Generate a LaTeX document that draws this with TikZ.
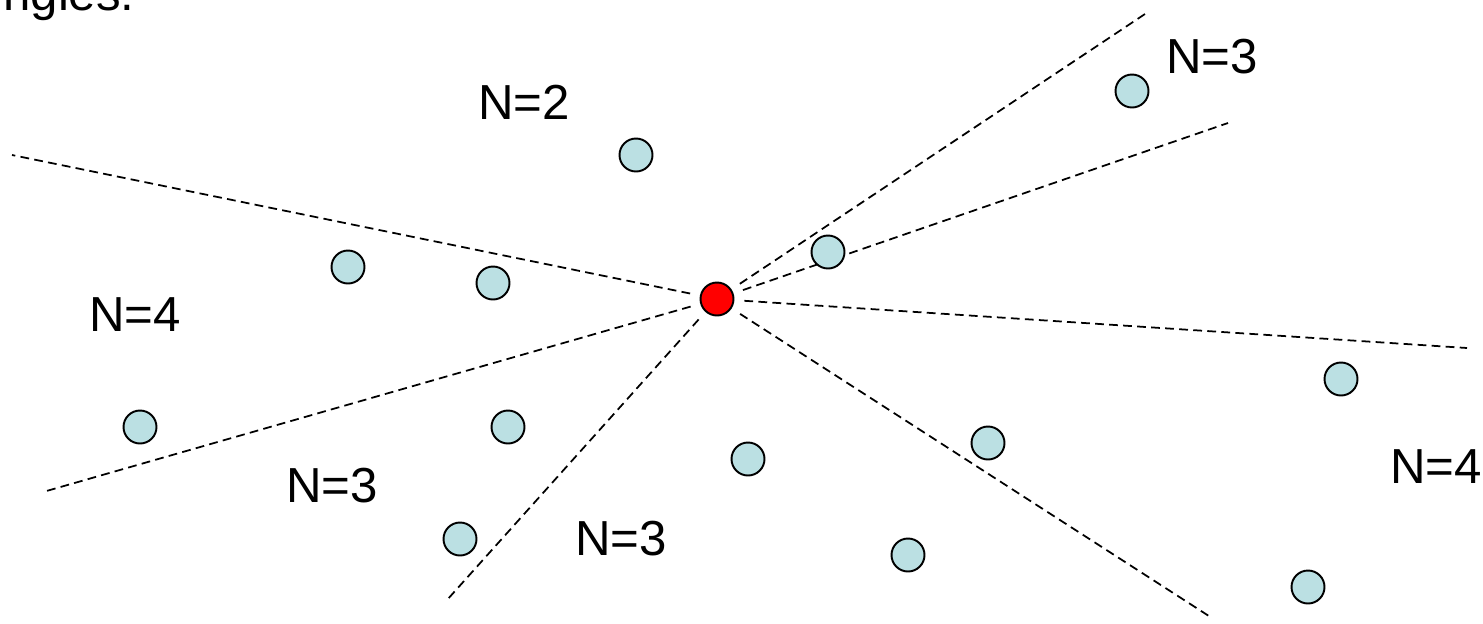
\documentclass[tikz,border=0pt]{standalone}
\usepackage{fontspec}
\setmainfont{Liberation Sans}
\usepackage{xcolor}
\definecolor{ptblue}{RGB}{187,224,227}
\definecolor{ptred}{RGB}{255,0,0}

\begin{document}
\begin{tikzpicture}[x=0.02cm, y=-0.02cm,
    pt/.style={circle, draw=black, line width=1.1pt, fill=ptblue, minimum size=0.66cm, inner sep=0pt},
    query/.style={pt, fill=ptred},
    ray/.style={dash pattern=on 5pt off 3pt, line width=1pt, shorten <=0.2cm},
    lbl/.style={font=\fontsize{28}{34}\selectfont, inner sep=0pt}
]
    \useasboundingbox (0,0) rectangle (1483,623);
    \node[lbl, anchor=base west] (head) at (3,10) {ngles.};

    % sector rays
    \coordinate (ra) at (12,155);
    \coordinate (rb) at (43,492);
    \coordinate (rc) at (447,600);
    \coordinate (rd) at (1212,618);
    \coordinate (re) at (1467,348);
    \coordinate (rf) at (1228,123);
    \coordinate (rg) at (1148,12);

    \node[query] (p) at (717,299) {};
    \foreach \r in {ra,rb,rc,rd,re,rf,rg}
        \draw[ray] (p) -- (\r);

    % neighbours
    \node[pt] (s1) at (1132,91) {};
    \node[pt] (s2) at (636,155) {};
    \node[pt] (s3) at (828,252) {};
    \node[pt] (s4) at (348,267) {};
    \node[pt] (s5) at (493,283) {};
    \node[pt] (s6) at (140,427) {};
    \node[pt] (s7) at (508,427) {};
    \node[pt] (s8) at (748,459) {};
    \node[pt] (s9) at (988,443) {};
    \node[pt] (s10) at (1341,379) {};
    \node[pt] (s11) at (460,539) {};
    \node[pt] (s12) at (908,555) {};
    \node[pt] (s13) at (1308,587) {};

    % counts
    \node[lbl] (n2) at (524,102) {N=2};
    \node[lbl] (n3a) at (1212,57) {N=3};
    \node[lbl] (n4a) at (135,315) {N=4};
    \node[lbl] (n3b) at (332,486) {N=3};
    \node[lbl] (n3c) at (621,539) {N=3};
    \node[lbl] (n4b) at (1436,467) {N=4};
\end{tikzpicture}
\end{document}
